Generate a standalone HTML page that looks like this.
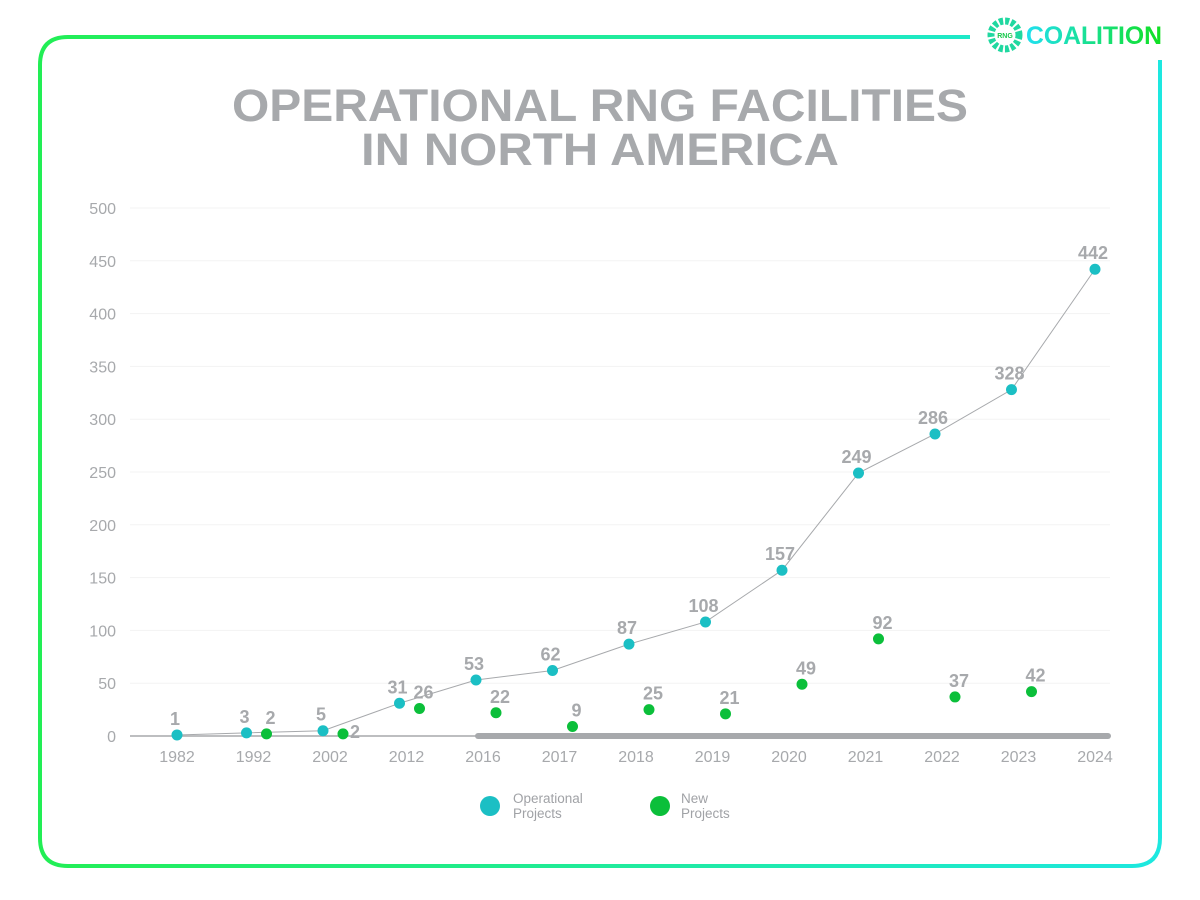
<!DOCTYPE html>
<html><head><meta charset="utf-8"><style>
html,body{margin:0;padding:0;background:#fff;width:1200px;height:900px;overflow:hidden}
svg text{font-family:"Liberation Sans",sans-serif}
</style></head><body>
<svg id="chart" width="1200" height="900" viewBox="0 0 1200 900" xmlns="http://www.w3.org/2000/svg">
<defs>
<linearGradient id="fg" x1="0" y1="0" x2="1" y2="0">
<stop offset="0" stop-color="#22ee55"/><stop offset="1" stop-color="#1de8e0"/></linearGradient>
<linearGradient id="lg" x1="0" y1="0" x2="1" y2="0">
<stop offset="0" stop-color="#20e0f0"/><stop offset="1" stop-color="#10e020"/></linearGradient>
</defs>
<path d="M970 37 H68 Q40 37 40 65 V838 Q40 866 68 866 H1132 Q1160 866 1160 838 V60" fill="none" stroke="url(#fg)" stroke-width="4"/>
<g>
<circle cx="1005" cy="35" r="14" fill="none" stroke="#20d8a0" stroke-width="7" stroke-dasharray="4 2"/>
<text x="1005" y="38" font-size="7" fill="#16c84a" text-anchor="middle" font-weight="bold">RNG</text>
<text x="1026" y="44" font-size="25" font-weight="bold" fill="url(#lg)" textLength="136" lengthAdjust="spacingAndGlyphs">COALITION</text>
</g>
<g fill="#a7a9ac" font-weight="bold" text-anchor="middle">
<text x="600" y="121" font-size="45" textLength="736" lengthAdjust="spacingAndGlyphs">OPERATIONAL RNG FACILITIES</text>
<text x="600" y="165" font-size="45" textLength="478" lengthAdjust="spacingAndGlyphs">IN NORTH AMERICA</text>
</g>
<g id="grid"></g><g id="marks"></g>
<g>
<circle cx="490" cy="806" r="10" fill="#1bbfc4"/>
<text x="513" y="803" font-size="13.5" fill="#a0a2a6">Operational</text>
<text x="513" y="818" font-size="13.5" fill="#a0a2a6">Projects</text>
<circle cx="660" cy="806" r="10" fill="#0bbf3a"/>
<text x="681" y="803" font-size="13.5" fill="#a0a2a6">New</text>
<text x="681" y="818" font-size="13.5" fill="#a0a2a6">Projects</text>
</g>
</svg>
<script>
const categories=["1982","1992","2002","2012","2016","2017","2018","2019","2020","2021","2022","2023","2024"];
const operational=[1,3,5,31,53,62,87,108,157,249,286,328,442];
const newProjects=[null,2,2,26,22,9,25,21,49,92,37,42,null];
const yTicks=[0,50,100,150,200,250,300,350,400,450,500];
const NS="http://www.w3.org/2000/svg";
function y(v){return 736-v*1.056;}
function x(i){return 177+i*76.5;}
function mk(t,a,p){const e=document.createElementNS(NS,t);for(const k in a)e.setAttribute(k,a[k]);p.appendChild(e);return e;}
const g=document.getElementById('grid'),m=document.getElementById('marks');
yTicks.forEach(v=>{
 if(v>0){const l=mk('line',{x1:130,x2:1110,y1:y(v),y2:y(v),stroke:'#f3f3f3','stroke-width':1},g);
 
 }
 const t=mk('text',{x:116,y:y(v)+6,'font-size':16,fill:'#a7a9ac','text-anchor':'end'},g);t.textContent=v;
 
 
});
const ax=mk('line',{x1:130,x2:1110,y1:736,y2:736,stroke:'#a7a9ac','stroke-width':1.5},g);


const ax2=mk('line',{x1:478,x2:1108,y1:736,y2:736,stroke:'#a7a9ac','stroke-width':6,'stroke-linecap':'round'},g);


categories.forEach((c,i)=>{
 const t=mk('text',{x:x(i),y:762,'font-size':16,fill:'#a7a9ac','text-anchor':'middle'},g);t.textContent=c;
 
 
});
const ox=i=>x(i)-(i===0||i===categories.length-1?0:7);
const pl=mk('polyline',{points:operational.map((v,i)=>ox(i)+','+y(v)).join(' '),fill:'none',stroke:'#a7a9ac','stroke-width':1},m);


newProjects.forEach((v,i)=>{
 if(v==null)return;
 const cx=x(i)+13;
 const c=mk('circle',{cx:cx,cy:y(v),r:5.5,fill:'#0bbf3a'},m);
 
 
 const t=mk('text',{x:cx+(i===2?12:4),y:y(v)-(i===2?-4:10),'font-size':18,'font-weight':'bold',fill:'#a7a9ac','text-anchor':'middle'},m);t.textContent=v;
 
 
});
operational.forEach((v,i)=>{
 const cx=ox(i);
 const c=mk('circle',{cx:cx,cy:y(v),r:5.5,fill:'#1bbfc4'},m);
 
 
 const t=mk('text',{x:cx-2,y:y(v)-10,'font-size':18,'font-weight':'bold',fill:'#a7a9ac','text-anchor':'middle'},m);t.textContent=v;
 
 
});
</script>
</body></html>
